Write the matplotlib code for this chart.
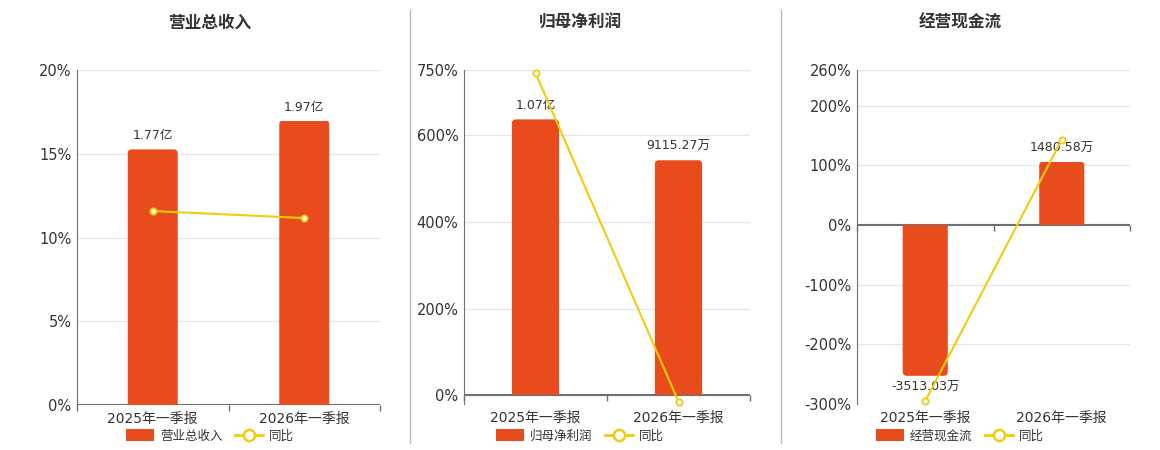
import matplotlib
matplotlib.use('Agg')
import matplotlib.pyplot as plt
from matplotlib.patches import Patch, FancyBboxPatch
from matplotlib.lines import Line2D
from matplotlib.transforms import Bbox, TransformedBbox

plt.rcParams['font.family'] = ['DejaVu Sans', 'Noto Sans CJK SC']

categories = ['2025年一季报', '2026年一季报']

titles = ['营业总收入', '归母净利润', '经营现金流']

# bar values in 万
revenue = [17700, 19700]
profit = [10700, 9115.27]
cashflow = [-3513.03, 1480.58]
bar_labels = [['1.77亿', '1.97亿'], ['1.07亿', '9115.27万'], ['-3513.03万', '1480.58万']]

# yoy percent
revenue_yoy = [11.58, 11.16]
profit_yoy = [743, -14.5]
cashflow_yoy = [-295, 143]

bars = [revenue, profit, cashflow]
yoys = [revenue_yoy, profit_yoy, cashflow_yoy]

pct_lims = [(0, 20), (-20, 750), (-300, 260)]
pct_ticks = [[0, 5, 10, 15, 20], [0, 200, 400, 600, 750], [-300, -200, -100, 0, 100, 200, 260]]
grid_lines = [[5, 10, 15, 20], [-20, 200, 400, 600, 750], [-300, -200, -100, 100, 200, 260]]
# 万 per percent point, so the hidden bar axis lines up with the visible one
bar_scale = [1160, 16.82, 13.9]

# axes boxes in pixels: left, right, top, bottom
boxes = [(77, 380, 70, 405), (464, 750, 70, 404), (857, 1130, 70, 404)]
centers = [210, 580, 960]

W, H = 1160, 450
fig = plt.figure(figsize=(W / 100, H / 100), dpi=100)

bar_color = '#E84C1D'
line_color = '#F2CB0C'
axis_color = '#6E7079'
grid_color = '#E0E6F1'
text_color = '#333333'
corner_px = 4

for i in range(3):
    l, r, t, b = boxes[i]
    ax = fig.add_axes([l / W, 1 - b / H, (r - l) / W, (b - t) / H])
    ax.set_ylim(*pct_lims[i])
    ax.set_xlim(-0.5, 1.5)
    ax.set_yticks(pct_ticks[i])
    ax.set_yticklabels([f'{v}%' for v in pct_ticks[i]], fontsize=10.5, color=text_color)
    for g in grid_lines[i]:
        ax.axhline(g, color=grid_color, lw=0.9, zorder=0)
    ax.axhline(0, color=axis_color, lw=1.5, zorder=4)
    for s in ['top', 'right', 'bottom']:
        ax.spines[s].set_visible(False)
    ax.spines['left'].set_color(axis_color)
    ax.tick_params(axis='y', length=0, pad=4)
    ax.set_xticks([0, 1])
    ax.set_xticklabels(categories, fontsize=10, color=text_color)
    ax.tick_params(axis='x', length=0, pad=5)

    # x axis boundary ticks hanging under the zero line
    ax.plot([-0.5, 0.5, 1.5], [0, 0, 0], linestyle='none', marker=3, markersize=4,
            markeredgewidth=1, color=axis_color, clip_on=False, zorder=4)

    bx = ax.twinx()
    ylo, yhi = pct_lims[i][0] * bar_scale[i], pct_lims[i][1] * bar_scale[i]
    bx.set_ylim(ylo, yhi)
    bx.axis('off')
    rects = bx.bar([0, 1], bars[i], width=0.33, color=bar_color, zorder=2)

    # round the free end of each bar, keep the base square
    x_per_px = 2.0 / (r - l)
    y_per_px = (yhi - ylo) / (b - t)
    for rect in rects:
        x0, y0 = rect.get_x(), rect.get_y()
        w, h = rect.get_width(), rect.get_height()
        rect.set_visible(False)
        ext = 3 * corner_px * y_per_px * (1 if h >= 0 else -1)
        lo, hi = sorted([y0 - ext, y0 + h])
        patch = FancyBboxPatch((x0, lo), w, hi - lo,
                               boxstyle=f'round,pad=0,rounding_size={corner_px * x_per_px}',
                               mutation_aspect=y_per_px / x_per_px,
                               facecolor=bar_color, edgecolor='none', zorder=2)
        bx.add_patch(patch)
        patch.set_clip_box(TransformedBbox(Bbox([[x0 - w, min(y0, y0 + h)],
                                                 [x0 + 2 * w, max(y0, y0 + h)]]),
                                           bx.transData))

    for j, v in enumerate(bars[i]):
        if v >= 0:
            bx.annotate(bar_labels[i][j], (j, v), xytext=(0, 5), textcoords='offset points',
                        ha='center', va='bottom', fontsize=9, color=text_color)
        else:
            bx.annotate(bar_labels[i][j], (j, v), xytext=(0, -4), textcoords='offset points',
                        ha='center', va='top', fontsize=9, color=text_color)

    lx = ax.twinx()
    lx.set_ylim(*pct_lims[i])
    lx.axis('off')
    lx.plot([0, 1], yoys[i], color=line_color, lw=1.5, marker='o', markersize=4.5,
            markerfacecolor='white', markeredgecolor=line_color, markeredgewidth=1.3,
            zorder=5, clip_on=False)

    fig.text(centers[i] / W, 1 - 23 / H, titles[i], ha='center', va='center',
             fontsize=12, fontweight='bold', color=text_color)

    handles = [Patch(facecolor=bar_color, edgecolor='none', label=titles[i]),
               Line2D([], [], color=line_color, lw=2, marker='o', markersize=8,
                      markerfacecolor='white', markeredgecolor=line_color,
                      markeredgewidth=1.8, label='同比')]
    fig.legend(handles=handles, loc='center', bbox_to_anchor=(centers[i] / W, 1 - 436 / H),
               ncol=2, frameon=False, fontsize=9, labelcolor=text_color,
               handlelength=2.2, handleheight=1.1, handletextpad=0.5, columnspacing=1.0,
               borderpad=0)

# panel dividers
for xd in [410, 781]:
    fig.add_artist(Line2D([xd / W, xd / W], [1 - 443 / H, 1 - 10 / H], color='#BBBBBB', lw=1))

fig.savefig('out.png', dpi=100)
